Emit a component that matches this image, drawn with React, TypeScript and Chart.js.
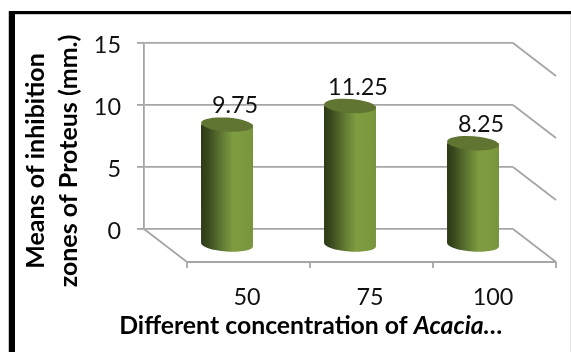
import React, { useEffect, useRef } from "react";
import { Chart, registerables } from "chart.js";

Chart.register(...registerables);

const categories = ["50", "75", "100"];
const means = [9.75, 11.25, 8.25];
const yTicks = [0, 5, 10, 15];
const yTitleLines = ["Means of inhibition", "zones of Proteus (mm.)"];
const xTitlePlain = "Different concentration of ";
const xTitleItalic = "Acacia…";

const FONT = "Lato, 'Open Sans', sans-serif";
const GRID = "#a6a6a6";
const LABEL_SIZE = 23.4;
// Receding depth of the box: back wall to front edge of the floor.
const DEPTH_X = 43;
const DEPTH_Y = 33;

const box3d = {
  id: "box3d",
  // Floor edges, side-wall edges and the front tick marks.
  beforeDatasetsDraw(chart: any) {
    const { ctx, chartArea: a } = chart;
    const y = chart.scales.y;
    ctx.save();
    ctx.strokeStyle = GRID;
    ctx.lineWidth = 1.8;
    const seg = (x0: number, y0: number, x1: number, y1: number) => {
      ctx.beginPath();
      ctx.moveTo(x0, y0);
      ctx.lineTo(x1, y1);
      ctx.stroke();
    };
    yTicks.forEach((t) => {
      const py = y.getPixelForValue(t);
      seg(a.right, py, a.right + DEPTH_X, py + DEPTH_Y);
    });
    const base = y.getPixelForValue(0);
    seg(a.left, base, a.left + DEPTH_X, base + DEPTH_Y);
    const fy = base + DEPTH_Y;
    seg(a.left + DEPTH_X, fy, a.right + DEPTH_X, fy);
    const step = (a.right - a.left) / categories.length;
    for (let i = 0; i <= categories.length; i++) {
      const fx = a.left + DEPTH_X + i * step;
      seg(fx, fy, fx, fy + 6);
    }
    ctx.restore();
  },
  // Each bar is painted as a cylinder standing midway across the floor.
  beforeDatasetDraw(chart: any, args: any) {
    const { ctx } = chart;
    const dx = DEPTH_X / 2;
    const dy = DEPTH_Y / 2;
    const tilt = 0.07;
    args.meta.data.forEach((bar: any, i: number) => {
      const p = bar.getProps(["x", "y", "base", "width"], true);
      const cx = p.x + dx;
      const rx = p.width / 2;
      const ry = 7;
      const top = p.y + dy;
      const bottom = p.base + dy;
      const left = cx - rx;
      const right = cx + rx;

      const body = ctx.createLinearGradient(left, 0, right, 0);
      body.addColorStop(0, "#2c3a16");
      body.addColorStop(0.14, "#3a4a1e");
      body.addColorStop(0.4, "#617a33");
      body.addColorStop(0.62, "#7f9c41");
      body.addColorStop(0.9, "#7c983f");
      body.addColorStop(1, "#76923c");
      ctx.save();
      ctx.fillStyle = body;
      ctx.beginPath();
      ctx.moveTo(left, top);
      ctx.ellipse(cx, bottom, rx, ry, tilt, Math.PI, 0, true);
      ctx.lineTo(right, top);
      ctx.closePath();
      ctx.fill();

      ctx.fillStyle = "#5f7531";
      ctx.beginPath();
      ctx.ellipse(cx, top, rx, ry, tilt, 0, Math.PI * 2);
      ctx.fill();
      ctx.restore();

      ctx.save();
      ctx.fillStyle = "#111111";
      ctx.font = `${LABEL_SIZE}px ${FONT}`;
      ctx.textAlign = "center";
      ctx.textBaseline = "middle";
      ctx.fillText(String(means[i]), cx + 8, top - 19);
      ctx.restore();
    });
    return false;
  },
  // Outer frame and the axis titles.
  afterDraw(chart: any) {
    const { ctx } = chart;
    ctx.save();
    ctx.fillStyle = "#c8c8c8";
    ctx.fillRect(8, 11, 1, 341);
    ctx.fillRect(15, 14, 556, 1);
    ctx.fillStyle = "#000000";
    ctx.fillRect(9, 11, 562, 3);
    ctx.fillRect(9, 11, 6, 341);
    ctx.fillStyle = "#e2e2e2";
    ctx.fillRect(570, 15, 1, 337);

    ctx.fillStyle = "#000000";
    ctx.textBaseline = "middle";
    const xSize = 24.8;
    ctx.font = `bold ${xSize}px ${FONT}`;
    const plainW = ctx.measureText(xTitlePlain).width;
    ctx.font = `italic bold ${xSize}px ${FONT}`;
    const italicW = ctx.measureText(xTitleItalic).width;
    const startX = 311 - (plainW + italicW) / 2;
    ctx.textAlign = "left";
    ctx.font = `bold ${xSize}px ${FONT}`;
    ctx.fillText(xTitlePlain, startX, 326);
    ctx.font = `italic bold ${xSize}px ${FONT}`;
    ctx.fillText(xTitleItalic, startX + plainW, 326);

    ctx.font = `bold 25px ${FONT}`;
    ctx.textAlign = "center";
    ctx.translate(0, 161);
    ctx.rotate(-Math.PI / 2);
    ctx.fillText(yTitleLines[0], 0, 36);
    ctx.fillText(yTitleLines[1], 0, 69);
    ctx.restore();
  },
};

export default function App() {
  const ref = useRef<HTMLCanvasElement>(null);
  useEffect(() => {
    document.body.style.margin = "0";
    const chart = new Chart(ref.current!, {
      type: "bar",
      data: {
        labels: categories,
        datasets: [{ data: means, backgroundColor: "#76923c", barPercentage: 0.423, categoryPercentage: 1 }],
      },
      plugins: [box3d],
      options: {
        responsive: false,
        animation: false,
        layout: { padding: { top: 43, right: 58, left: 0, bottom: 0 } },
        plugins: { legend: { display: false }, tooltip: { enabled: false } },
        scales: {
          x: {
            afterFit(scale: any) {
              scale.height = 123;
            },
            grid: { display: false },
            border: { display: false },
            ticks: {
              font: { family: FONT, size: LABEL_SIZE },
              color: "#111111",
              labelOffset: 41.5,
              padding: 46,
              maxRotation: 0,
            },
          },
          y: {
            min: 0,
            max: 15,
            afterFit(scale: any) {
              scale.width = 144;
            },
            afterBuildTicks(scale: any) {
              scale.ticks = yTicks.map((value) => ({ value }));
            },
            grid: { color: GRID, lineWidth: 1.8, tickLength: 7 },
            border: { display: true, color: GRID, width: 1.8 },
            ticks: { font: { family: FONT, size: LABEL_SIZE }, color: "#111111", padding: 16, labelOffset: 2 },
          },
        },
      },
    });
    return () => chart.destroy();
  }, []);
  return <canvas ref={ref} width={571} height={352} style={{ display: "block" }} />;
}
